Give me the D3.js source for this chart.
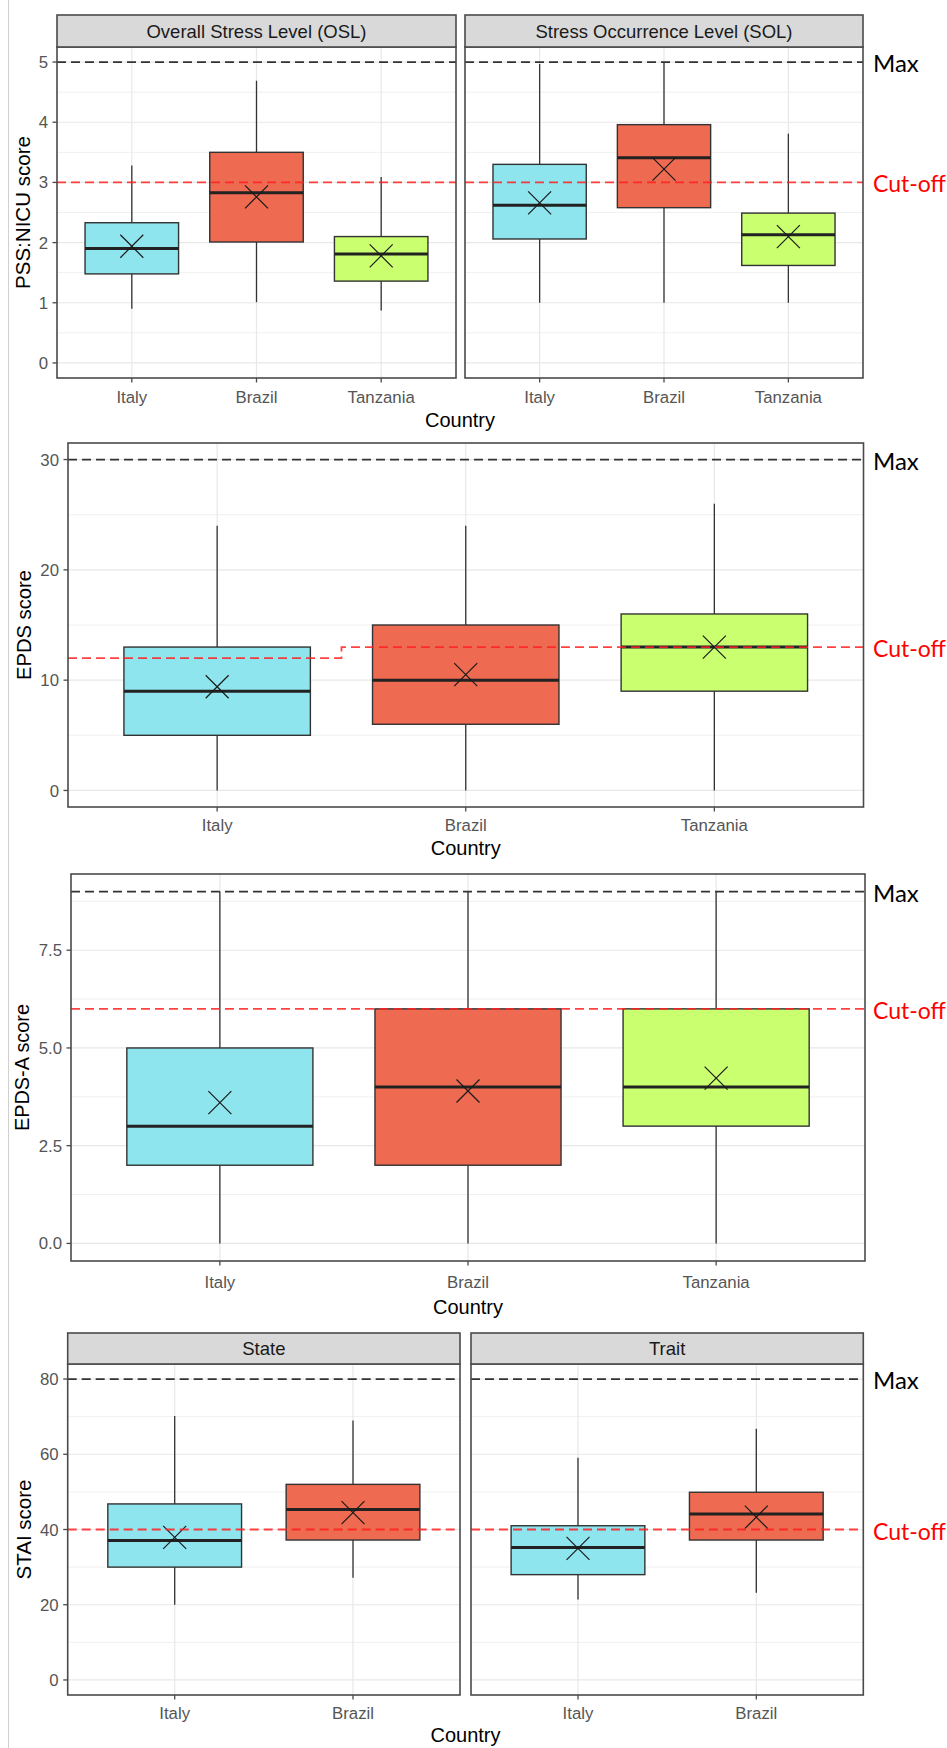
<!DOCTYPE html>
<html>
<head>
<meta charset="utf-8">
<script src="https://cdn.jsdelivr.net/npm/d3@7"></script>
<style>
  html, body { margin: 0; padding: 0; background: #fff; }
  svg { display: block; }
</style>
</head>
<body>
<svg id="chart" width="947" height="1748"></svg>
<script>
// ---------------- DATA ----------------
const categories3 = ["Italy", "Brazil", "Tanzania"];
const categories2 = ["Italy", "Brazil"];

// PSS:NICU – Overall Stress Level (OSL)
const oslLow    = [0.90, 1.01, 0.87];
const oslQ1     = [1.48, 2.01, 1.36];
const oslMedian = [1.90, 2.83, 1.81];
const oslQ3     = [2.33, 3.50, 2.10];
const oslHigh   = [3.28, 4.69, 3.09];
const oslMean   = [1.94, 2.76, 1.78];

// PSS:NICU – Stress Occurrence Level (SOL)
const solLow    = [1.00, 1.00, 1.00];
const solQ1     = [2.06, 2.58, 1.62];
const solMedian = [2.62, 3.41, 2.13];
const solQ3     = [3.30, 3.96, 2.49];
const solHigh   = [4.97, 5.00, 3.81];
const solMean   = [2.66, 3.22, 2.10];

// EPDS
const epdsLow    = [0, 0, 0];
const epdsQ1     = [5, 6, 9];
const epdsMedian = [9, 10, 13];
const epdsQ3     = [13, 15, 16];
const epdsHigh   = [24, 24, 26];
const epdsMean   = [9.4, 10.5, 13.0];

// EPDS-A
const epdsaLow    = [0, 0, 0];
const epdsaQ1     = [2, 2, 3];
const epdsaMedian = [3, 4, 4];
const epdsaQ3     = [5, 6, 6];
const epdsaHigh   = [9, 9, 9];
const epdsaMean   = [3.6, 3.9, 4.23];

// STAI – State
const stateLow    = [20.0, 27.2];
const stateQ1     = [30.0, 37.2];
const stateMedian = [37.1, 45.3];
const stateQ3     = [46.8, 52.0];
const stateHigh   = [70.2, 69.0];
const stateMean   = [37.9, 44.5];

// STAI – Trait
const traitLow    = [21.4, 23.2];
const traitQ1     = [28.0, 37.2];
const traitMedian = [35.2, 44.1];
const traitQ3     = [41.0, 49.9];
const traitHigh   = [59.1, 66.8];
const traitMean   = [35.0, 43.3];

// Reference lines (per category)
const pssMax = [5, 5, 5];       const pssCutoff = [3, 3, 3];
const epdsMax = [30, 30, 30];   const epdsCutoff = [12, 13, 13];
const epdsaMax = [9, 9, 9];     const epdsaCutoff = [6, 6, 6];
const staiMax = [80, 80];       const staiCutoff = [40, 40];

// Tick values
const pssTicks = [0, 1, 2, 3, 4, 5];
const epdsTicks = [0, 10, 20, 30];
const epdsaTicks = [0, 2.5, 5, 7.5];
const staiTicks = [0, 20, 40, 60, 80];

const countryColors = { Italy: "#8EE5EE", Brazil: "#EE6A50", Tanzania: "#CAFF70" };

// ---------------- LAYOUT ----------------
function stats(cats, low, q1, med, q3, high, mean) {
  return cats.map((c, i) => ({ cat: c, low: low[i], q1: q1[i], med: med[i], q3: q3[i], high: high[i], mean: mean[i] }));
}

const rows = [
  {
    cats: categories3, top: 47, bottom: 378, stripTop: 15,
    facets: [
      { x0: 57, x1: 456, title: "Overall Stress Level (OSL)", data: stats(categories3, oslLow, oslQ1, oslMedian, oslQ3, oslHigh, oslMean) },
      { x0: 465, x1: 863, title: "Stress Occurrence Level (SOL)", data: stats(categories3, solLow, solQ1, solMedian, solQ3, solHigh, solMean) }
    ],
    maxLine: pssMax, cutLine: pssCutoff, ticks: pssTicks, fmt: d3.format("d"),
    yTitle: "PSS:NICU score", yTitleX: 23, yTitleLen: 153, xLabelY: 397, countryY: 420
  },
  {
    cats: categories3, top: 443, bottom: 807,
    facets: [
      { x0: 68, x1: 863.5, data: stats(categories3, epdsLow, epdsQ1, epdsMedian, epdsQ3, epdsHigh, epdsMean) }
    ],
    maxLine: epdsMax, cutLine: epdsCutoff, ticks: epdsTicks, fmt: d3.format("d"),
    yTitle: "EPDS score", yTitleX: 24, yTitleLen: 110, xLabelY: 825, countryY: 848
  },
  {
    cats: categories3, top: 874, bottom: 1261,
    facets: [
      { x0: 71, x1: 865, data: stats(categories3, epdsaLow, epdsaQ1, epdsaMedian, epdsaQ3, epdsaHigh, epdsaMean) }
    ],
    maxLine: epdsaMax, cutLine: epdsaCutoff, ticks: epdsaTicks, fmt: d3.format(".1f"),
    yTitle: "EPDS-A score", yTitleX: 22, yTitleLen: 127, xLabelY: 1282, countryY: 1307
  },
  {
    cats: categories2, top: 1364, bottom: 1695, stripTop: 1333,
    facets: [
      { x0: 67.7, x1: 460, title: "State", data: stats(categories2, stateLow, stateQ1, stateMedian, stateQ3, stateHigh, stateMean) },
      { x0: 471, x1: 863.3, title: "Trait", data: stats(categories2, traitLow, traitQ1, traitMedian, traitQ3, traitHigh, traitMean) }
    ],
    maxLine: staiMax, cutLine: staiCutoff, ticks: staiTicks, fmt: d3.format("d"),
    yTitle: "STAI score", yTitleX: 24, yTitleLen: 100, xLabelY: 1713, countryY: 1735
  }
];

const svg = d3.select("#chart");
const FONT = "'Liberation Sans', Arial, sans-serif";
const LABEL_FONT = "Lato, 'Open Sans', sans-serif";

// light image border line on the left
svg.append("line").attr("x1", 8.5).attr("x2", 8.5).attr("y1", 0).attr("y2", 1748)
  .attr("stroke", "#d0d0d0").attr("stroke-width", 1);

rows.forEach(row => {
  const n = row.cats.length;
  const maxVal = row.maxLine[0];
  const y = d3.scaleLinear().domain([-0.05 * maxVal, 1.05 * maxVal]).range([row.bottom, row.top]);
  const step = row.ticks[1] - row.ticks[0];
  const minorTicks = row.ticks.map(t => t + step / 2).filter(t => y(t) > row.top);

  row.facets.forEach((f, fi) => {
    const x = d3.scaleLinear().domain([0.4, n + 0.6]).range([f.x0, f.x1]);
    const catX = c => x(row.cats.indexOf(c) + 1);
    const bw = x(1.375) - x(1);
    const g = svg.append("g");

    // grid
    g.selectAll(".minor").data(minorTicks).join("line")
      .attr("x1", f.x0).attr("x2", f.x1).attr("y1", d => y(d)).attr("y2", d => y(d))
      .attr("stroke", "#f0f0f0").attr("stroke-width", 1);
    g.selectAll(".major").data(row.ticks).join("line")
      .attr("x1", f.x0).attr("x2", f.x1).attr("y1", d => y(d)).attr("y2", d => y(d))
      .attr("stroke", "#e8e8e8").attr("stroke-width", 1.2);
    g.selectAll(".vmajor").data(row.cats).join("line")
      .attr("x1", d => catX(d)).attr("x2", d => catX(d)).attr("y1", row.top).attr("y2", row.bottom)
      .attr("stroke", "#e8e8e8").attr("stroke-width", 1.2);

    // whiskers
    g.selectAll(".whisk").data(f.data).join("line")
      .attr("x1", d => catX(d.cat)).attr("x2", d => catX(d.cat))
      .attr("y1", d => y(d.low)).attr("y2", d => y(d.high))
      .attr("stroke", "#333").attr("stroke-width", 1.3);

    // boxes
    g.selectAll(".box").data(f.data).join("rect")
      .attr("x", d => catX(d.cat) - bw).attr("width", 2 * bw)
      .attr("y", d => y(d.q3)).attr("height", d => y(d.q1) - y(d.q3))
      .attr("fill", d => countryColors[d.cat]).attr("stroke", "#333").attr("stroke-width", 1.4);

    // medians
    g.selectAll(".med").data(f.data).join("line")
      .attr("x1", d => catX(d.cat) - bw).attr("x2", d => catX(d.cat) + bw)
      .attr("y1", d => y(d.med)).attr("y2", d => y(d.med))
      .attr("stroke", "#222").attr("stroke-width", 3);

    // mean crosses
    const s = 11.5;
    g.selectAll(".mean").data(f.data).join("path")
      .attr("d", d => {
        const cx = catX(d.cat), cy = y(d.mean);
        return `M${cx - s},${cy - s}L${cx + s},${cy + s}M${cx - s},${cy + s}L${cx + s},${cy - s}`;
      })
      .attr("stroke", "#1a1a1a").attr("stroke-width", 1.2).attr("fill", "none");

    // reference lines
    const refPts = vals => {
      const pts = [[0.4, vals[0]]];
      vals.forEach((v, i) => pts.push([i + 1, v]));
      pts.push([n + 0.6, vals[n - 1]]);
      return pts;
    };
    const refLine = d3.line().x(d => x(d[0])).y(d => y(d[1])).curve(d3.curveStep);
    g.append("path").attr("d", refLine(refPts(row.maxLine)))
      .attr("fill", "none").attr("stroke", "#333").attr("stroke-width", 1.8).attr("stroke-dasharray", "9,5");
    g.append("path").attr("d", refLine(refPts(row.cutLine)))
      .attr("fill", "none").attr("stroke", "#ff2020").attr("stroke-opacity", 0.85)
      .attr("stroke-width", 1.8).attr("stroke-dasharray", "9,5");

    // panel border
    g.append("rect").attr("x", f.x0).attr("y", row.top).attr("width", f.x1 - f.x0).attr("height", row.bottom - row.top)
      .attr("fill", "none").attr("stroke", "#4a4a4a").attr("stroke-width", 1.6);

    // strip
    if (f.title) {
      g.append("rect").attr("x", f.x0).attr("y", row.stripTop).attr("width", f.x1 - f.x0).attr("height", row.top - row.stripTop)
        .attr("fill", "#d9d9d9").attr("stroke", "#4a4a4a").attr("stroke-width", 1.6);
      g.append("text").attr("x", (f.x0 + f.x1) / 2).attr("y", (row.stripTop + row.top) / 2)
        .attr("dy", "0.36em").attr("text-anchor", "middle")
        .attr("font-family", FONT).attr("font-size", 18.5).attr("fill", "#1a1a1a").text(f.title);
    }

    // x axis ticks + labels
    g.selectAll(".xt").data(row.cats).join("line")
      .attr("x1", d => catX(d)).attr("x2", d => catX(d)).attr("y1", row.bottom).attr("y2", row.bottom + 4.5)
      .attr("stroke", "#4a4a4a").attr("stroke-width", 1.3);
    g.selectAll(".xl").data(row.cats).join("text")
      .attr("x", d => catX(d)).attr("y", row.xLabelY).attr("dy", "0.36em").attr("text-anchor", "middle")
      .attr("font-family", FONT).attr("font-size", 16.8).attr("fill", "#555").text(d => d);

    // y axis on first facet
    if (fi === 0) {
      g.selectAll(".yt").data(row.ticks).join("line")
        .attr("x1", f.x0 - 4.5).attr("x2", f.x0).attr("y1", d => y(d)).attr("y2", d => y(d))
        .attr("stroke", "#4a4a4a").attr("stroke-width", 1.3);
      g.selectAll(".yl").data(row.ticks).join("text")
        .attr("x", f.x0 - 9).attr("y", d => y(d)).attr("dy", "0.36em").attr("text-anchor", "end")
        .attr("font-family", FONT).attr("font-size", 16.8).attr("fill", "#555").text(d => row.fmt(d));
    }

    // right labels on last facet
    if (fi === row.facets.length - 1) {
      g.append("text").attr("x", 873).attr("y", y(row.maxLine[n - 1]) + 2).attr("dy", "0.35em")
        .attr("font-family", LABEL_FONT).attr("font-size", 24).attr("fill", "#000").text("Max");
      g.append("text").attr("x", 873).attr("y", y(row.cutLine[n - 1]) + 2).attr("dy", "0.35em")
        .attr("font-family", LABEL_FONT).attr("font-size", 23).attr("fill", "#ff0000").text("Cut-off");
    }
  });

  // titles
  const left = row.facets[0].x0, right = row.facets[row.facets.length - 1].x1;
  svg.append("text").attr("x", (left + right) / 2).attr("y", row.countryY).attr("dy", "0.36em")
    .attr("text-anchor", "middle").attr("font-family", FONT).attr("font-size", 20).attr("fill", "#000").text("Country");
  svg.append("text").attr("transform", `translate(${row.yTitleX},${(row.top + row.bottom) / 2}) rotate(-90)`)
    .attr("dy", "0.36em").attr("text-anchor", "middle").attr("font-family", FONT).attr("font-size", 20.5)
    .attr("textLength", row.yTitleLen).attr("lengthAdjust", "spacingAndGlyphs")
    .attr("fill", "#000").text(row.yTitle);
});
</script>
</body>
</html>
